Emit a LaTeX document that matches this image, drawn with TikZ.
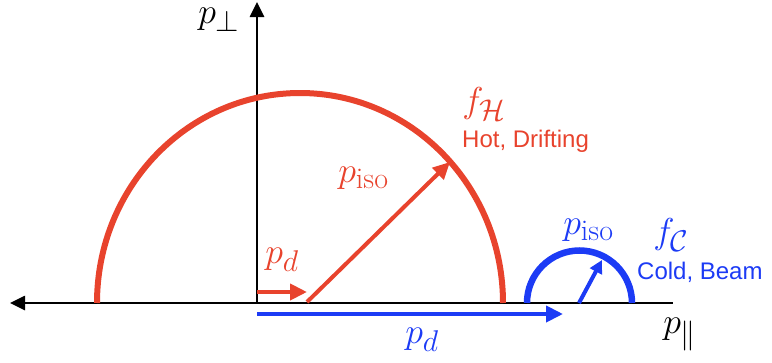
\documentclass[tikz,border=0pt]{standalone}
\usepackage{fontspec}
\setsansfont{Liberation Sans}
\usetikzlibrary{arrows.meta}
\definecolor{hotred}{HTML}{E8432D}
\definecolor{coldblue}{HTML}{1C3BF5}

\begin{document}
\begin{tikzpicture}[x=1pt, y=-1pt,
    axis/.style={line width=2.6pt, -{Triangle[length=15pt,width=14pt]}},
    hotarrow/.style={hotred, line width=4pt, -{Triangle[length=17pt,width=16pt]}},
    coldarrow/.style={coldblue, line width=4pt, -{Triangle[length=17pt,width=16pt]}},
    mlabel/.style={inner sep=0pt, anchor=base west, scale=1.447,
                   font=\fontsize{24.88}{28}\selectfont},
    tlabel/.style={inner sep=0pt, anchor=base west, font=\sffamily\fontsize{24}{27}\selectfont}]
  \useasboundingbox (0,0) rectangle (772,362);
  \coordinate (O) at (257,303);
  \coordinate (xmin) at (10,303);
  \coordinate (xmax) at (673,303);
  \coordinate (ymax) at (257,2);
  \coordinate (hot start) at (97,303);
  \coordinate (cold start) at (527,303);
  \coordinate (hot centre) at (307,302);
  \coordinate (hot rim) at (450,162);
  \coordinate (cold centre) at (579,303);
  \coordinate (cold rim) at (602,260);
  \coordinate (hot drift) at (257,292);
  \coordinate (hot drift end) at (307,292);
  \coordinate (cold drift) at (257,314);
  \coordinate (cold drift end) at (563,314);

  \draw[axis, {Triangle[length=15pt,width=14pt]}-] (xmin) -- (xmax);
  \draw[axis] (O) -- (ymax);
  \draw[hotred, line width=6pt] (hot start)
    arc[start angle=180, end angle=0, x radius=203pt, y radius=210pt];
  \draw[coldblue, line width=6.5pt] (cold start)
    arc[start angle=180, end angle=0, radius=52.5pt];
  \draw[hotarrow] (hot centre) -- (hot rim);
  \draw[hotarrow] (hot drift) -- (hot drift end);
  \draw[coldarrow, -{Triangle[length=13pt,width=13pt]}] (cold centre) -- (cold rim);
  \draw[coldarrow] (cold drift) -- (cold drift end);

  \node[mlabel] (pperp) at (198,23) {$p_\perp$};
  \node[mlabel] (ppar) at (663,333) {$p_{\|}$};
  \node[mlabel, hotred] (fH) at (462,112) {$f_{\mathcal{H}}$};
  \node[tlabel, hotred] (hot text) at (462,147) {Hot, Drifting};
  \node[mlabel, hotred] (piso hot) at (338,182) {$p_{\mathrm{iso}}$};
  \node[mlabel, hotred] (pd hot) at (265,263) {$p_d$};
  \node[mlabel, coldblue] (fC) at (653,243) {$f_{\mathcal{C}}$};
  \node[tlabel, coldblue] (cold text) at (637,279) {Cold, Beam};
  \node[mlabel, coldblue] (piso cold) at (563,234) {$p_{\mathrm{iso}}$};
  \node[mlabel, coldblue] (pd cold) at (405,343) {$p_d$};
\end{tikzpicture}
\end{document}
